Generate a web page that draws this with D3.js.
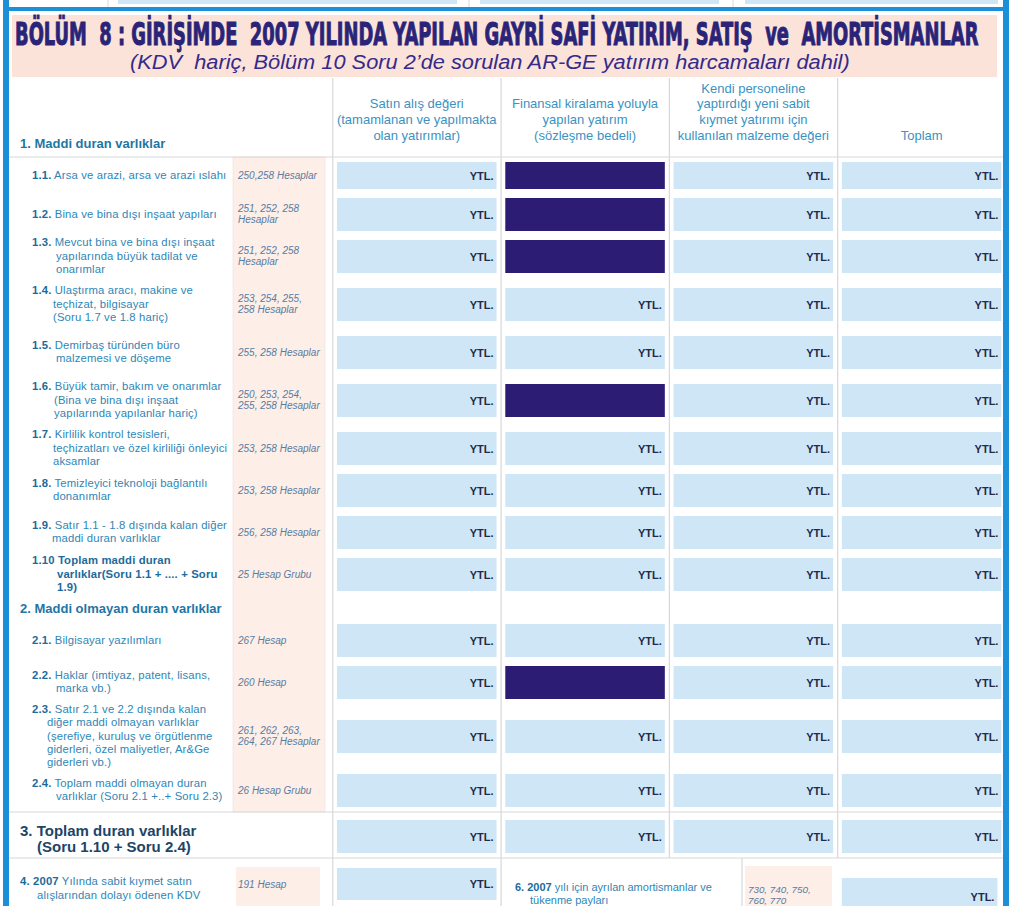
<!DOCTYPE html>
<html><head><meta charset="utf-8">
<script src="https://cdn.jsdelivr.net/npm/d3@7"></script>
<style>body{margin:0;background:#fff}svg{display:block}text{white-space:pre}</style>
</head><body>
<script>
// ---------- data ----------
const titleText = "BÖLÜM  8 : GİRİŞİMDE  2007 YILINDA YAPILAN GAYRİ SAFİ YATIRIM, SATIŞ  ve  AMORTİSMANLAR";
const subtitleText = "(KDV  hariç, Bölüm 10 Soru 2’de sorulan AR-GE yatırım harcamaları dahil)";
const columnHeaders = [
  ["Satın alış değeri","(tamamlanan ve yapılmakta","olan yatırımlar)"],
  ["Finansal kiralama yoluyla","yapılan yatırım","(sözleşme bedeli)"],
  ["Kendi personeline","yaptırdığı yeni sabit","kıymet yatırımı için","kullanılan malzeme değeri"],
  ["Toplam"]
];
const sectionHeadings = ["1. Maddi duran varlıklar","2. Maddi olmayan duran varlıklar"];
const rowIds = ["1.1","1.2","1.3","1.4","1.5","1.6","1.7","1.8","1.9","1.10","2.1","2.2","2.3","2.4","3"];
const rowNumbers = ["1.1.","1.2.","1.3.","1.4.","1.5.","1.6.","1.7.","1.8.","1.9.","1.10","2.1.","2.2.","2.3.","2.4."];
const rowTexts = [
  ["Arsa ve arazi, arsa ve arazi ıslahı"],
  ["Bina ve bina dışı inşaat yapıları"],
  ["Mevcut bina ve bina dışı inşaat","yapılarında büyük tadilat ve","onarımlar"],
  ["Ulaştırma aracı, makine ve","teçhizat, bilgisayar","(Soru 1.7 ve 1.8 hariç)"],
  ["Demirbaş türünden büro","malzemesi ve döşeme"],
  ["Büyük tamir, bakım ve onarımlar","(Bina ve bina dışı inşaat","yapılarında yapılanlar hariç)"],
  ["Kirlilik kontrol tesisleri,","teçhizatları ve özel kirliliği önleyici","aksamlar"],
  ["Temizleyici teknoloji bağlantılı","donanımlar"],
  ["Satır 1.1 - 1.8 dışında kalan diğer","maddi duran varlıklar"],
  ["Toplam maddi duran","varlıklar(Soru 1.1 + .... + Soru","1.9)"],
  ["Bilgisayar yazılımları"],
  ["Haklar (imtiyaz, patent, lisans,","marka vb.)"],
  ["Satır 2.1 ve 2.2 dışında kalan","diğer maddi olmayan varlıklar","(şerefiye, kuruluş ve örgütlenme","giderleri, özel maliyetler, Ar&Ge","giderleri vb.)"],
  ["Toplam maddi olmayan duran","varlıklar (Soru 2.1 +..+ Soru 2.3)"]
];
const boldRows = ["1.10"];
const accountCodes = [
  ["250,258 Hesaplar"],["251, 252, 258","Hesaplar"],["251, 252, 258","Hesaplar"],
  ["253, 254, 255,","258 Hesaplar"],["255, 258 Hesaplar"],["250, 253, 254,","255, 258 Hesaplar"],
  ["253, 258 Hesaplar"],["253, 258 Hesaplar"],["256, 258 Hesaplar"],["25 Hesap Grubu"],
  ["267 Hesap"],["260 Hesap"],["261, 262, 263,","264, 267 Hesaplar"],["26 Hesap Grubu"]
];
const totalLabel = ["3. Toplam duran varlıklar","(Soru 1.10 + Soru 2.4)"];
const blockedCells = [["1.1",1],["1.2",1],["1.3",1],["1.6",1],["2.2",1]];
const unitLabel = "YTL.";
const q4Number = "4. 2007", q4Lines = [" Yılında sabit kıymet satın","alışlarından dolayı ödenen KDV"], q4Code = ["191 Hesap"];
const q6Number = "6. 2007", q6Lines = [" yılı için ayrılan amortismanlar ve","tükenme payları"], q6Code = ["730, 740, 750,","760, 770"];

// ---------- styles / layout ----------
const W = 1024, H = 906;
const BLUE = "#1b8fd8", PINK = "#fbe3da", PINK2 = "#fdeee8", BOX = "#cfe6f7", DARK = "#2c1c74", LINE = "#d8d8d8";
const NAVY = "#2a2478", HEAD = "#3a92c2", LAB = "#2f86b6", NUM = "#1c6b9b", CODE = "#5a7ca0", YTL = "#232a4a";
const FONT = "'Liberation Sans', Arial, sans-serif";
const LH = 13.3, LFS = 11.3, LLS = 0.15;

const svg = d3.select("body").append("svg").attr("width", W).attr("height", H);
svg.append("rect").attr("width", W).attr("height", H).attr("fill", "#fff");

const x = d3.scaleBand().domain(d3.range(4)).range([332.6, 1005.8]).paddingInner(0.052).paddingOuter(0.026);
const y = d3.scaleOrdinal().domain(rowIds).range([162,198,240,288,336,384,432,474,516,558,624,666,720,774,820]);
const h = d3.scaleOrdinal().domain(rowIds).range([27,33,33,33,33,33,33,33,33,33,33,33,33,33,33]);
const indent = d3.scaleOrdinal().domain(rowIds).range([56,56,56,53,56,54,53,53,52,57,56,56,47,56,37]);
const sep = i => x(i) - 4.2;

// top strip (previous section remnants)
svg.selectAll("rect.prev").data([[118,457],[480,719],[745,998]]).join("rect")
  .attr("x", d => d[0]).attr("y", 0).attr("width", d => d[1]-d[0]).attr("height", 4).attr("fill", BOX);
svg.selectAll("line.prev").data([108,469,733]).join("line")
  .attr("x1", d => d).attr("x2", d => d).attr("y1", 0).attr("y2", 7).attr("stroke", LINE);

// title band
svg.append("rect").attr("x", 12).attr("y", 15).attr("width", 985).attr("height", 62).attr("fill", PINK);
const title = svg.append("text").text(titleText)
  .attr("font-family", "'DejaVu Sans Condensed','DejaVu Sans',sans-serif").attr("font-weight", "bold")
  .attr("font-size", 32).attr("fill", NAVY).attr("stroke", NAVY).attr("stroke-width", 1);
const tl = title.node().getComputedTextLength();
title.attr("transform", `translate(15,44.5) scale(${964 / tl},1)`);
const sub = svg.append("text").text(subtitleText)
  .attr("font-family", FONT).attr("font-style", "italic").attr("font-size", 19.5).attr("fill", "#35298a");
const sl = sub.node().getComputedTextLength();
sub.attr("transform", `translate(130,69) scale(${720 / sl},1)`);

// account-code pink column
svg.append("rect").attr("x", 233).attr("y", 157).attr("width", 92).attr("height", 655)
  .attr("fill", PINK2).attr("stroke", "#ece0dc").attr("stroke-width", 0.6);

// grid lines
svg.selectAll("line.vsep").data([0,1,2,3]).join("line")
  .attr("x1", sep).attr("x2", sep).attr("y1", 78).attr("y2", d => d < 2 ? H : 858)
  .attr("stroke", LINE).attr("stroke-width", 1.2);
svg.selectAll("line.hsep").data([157, 812, 858]).join("line")
  .attr("x1", 9).attr("x2", 1003).attr("y1", d => d).attr("y2", d => d).attr("stroke", LINE).attr("stroke-width", 1.2);
svg.append("line").attr("x1", 742).attr("x2", 742).attr("y1", 858).attr("y2", H).attr("stroke", LINE).attr("stroke-width", 1.2);

// column headers
const hdr = svg.selectAll("text.hdr").data(columnHeaders).join("text")
  .attr("font-family", FONT).attr("font-size", 13).attr("fill", HEAD).attr("text-anchor", "middle");
hdr.each(function(lines, i) {
  d3.select(this).selectAll("tspan").data(lines).join("tspan")
    .attr("x", x(i) + x.bandwidth()/2)
    .attr("y", (d, j) => 140 - (lines.length - 1 - j) * 15.8)
    .text(d => d);
});

// section headings
svg.selectAll("text.sec").data(sectionHeadings).join("text")
  .attr("x", 20).attr("y", (d, i) => i === 0 ? 148 : 613)
  .attr("font-family", FONT).attr("font-weight", "bold").attr("font-size", 13).attr("fill", "#1f76a4")
  .text(d => d);

// input cells
const cells = [];
rowIds.forEach(r => d3.range(4).forEach(c => cells.push({r, c,
  blocked: blockedCells.some(b => b[0] === r && b[1] === c)})));
svg.selectAll("rect.cell").data(cells).join("rect")
  .attr("x", d => x(d.c)).attr("y", d => y(d.r)).attr("width", x.bandwidth()).attr("height", d => h(d.r))
  .attr("fill", d => d.blocked ? DARK : BOX);
svg.selectAll("text.ytl").data(cells.filter(d => !d.blocked)).join("text")
  .attr("x", d => x(d.c) + x.bandwidth() - 3).attr("y", d => y(d.r) + h(d.r)/2 + 4)
  .attr("text-anchor", "end").attr("font-family", FONT).attr("font-weight", "bold").attr("font-size", 11)
  .attr("fill", YTL).text(unitLabel);

// row labels
const labelRows = rowIds.slice(0, rowTexts.length);
labelRows.forEach((id, i) => {
  const lines = rowTexts[i], n = lines.length, bold = boldRows.includes(id);
  const c = y(id) + h(id)/2, first = c + 3 - (n - 1) * LH / 2;
  lines.forEach((ln, j) => {
    const t = svg.append("text").attr("y", first + j * LH).attr("font-family", FONT).attr("font-size", LFS)
      .attr("letter-spacing", LLS).attr("fill", bold ? NUM : LAB).attr("font-weight", bold ? "bold" : null);
    if (j === 0) {
      t.attr("x", 32);
      t.append("tspan").attr("font-weight", "bold").attr("fill", NUM).text(rowNumbers[i]);
      t.append("tspan").text(" " + ln);
    } else {
      t.attr("x", indent(id)).text(ln);
    }
  });
  const codes = accountCodes[i], m = codes.length;
  codes.forEach((cd, j) => {
    svg.append("text").attr("x", 238).attr("y", c + 3 - (m - 1) * 11.5 / 2 + j * 11.5)
      .attr("font-family", FONT).attr("font-style", "italic").attr("font-size", 10).attr("fill", CODE).text(cd);
  });
});

// total row (3)
svg.selectAll("text.tot").data(totalLabel).join("text")
  .attr("x", (d, i) => i === 0 ? 20 : indent("3")).attr("y", (d, i) => 836 + i * 16)
  .attr("font-family", FONT).attr("font-weight", "bold").attr("font-size", 15).attr("fill", "#1d4567").text(d => d);

// question 4
svg.append("rect").attr("x", 236).attr("y", 867).attr("width", 84).attr("height", 39).attr("fill", PINK2);
svg.append("rect").attr("x", x(0)).attr("y", 868).attr("width", x.bandwidth()).attr("height", 32).attr("fill", BOX);
svg.append("text").attr("x", x(0) + x.bandwidth() - 3).attr("y", 888).attr("text-anchor", "end")
  .attr("font-family", FONT).attr("font-weight", "bold").attr("font-size", 11).attr("fill", YTL).text(unitLabel);
const q4 = svg.append("text").attr("x", 20).attr("y", 885).attr("font-family", FONT).attr("font-size", LFS)
  .attr("letter-spacing", LLS).attr("fill", LAB);
q4.append("tspan").attr("font-weight", "bold").attr("fill", NUM).text(q4Number);
q4.append("tspan").text(q4Lines[0]);
svg.append("text").attr("x", 37).attr("y", 899).attr("font-family", FONT).attr("font-size", LFS)
  .attr("letter-spacing", LLS).attr("fill", LAB).text(q4Lines[1]);
svg.append("text").attr("x", 238).attr("y", 888).attr("font-family", FONT).attr("font-style", "italic")
  .attr("font-size", 10).attr("fill", CODE).text(q4Code[0]);

// question 6
svg.append("rect").attr("x", 745).attr("y", 866).attr("width", 87).attr("height", 40).attr("fill", PINK2);
q6Code.forEach((cd, j) => svg.append("text").attr("x", 748).attr("y", 893 + j * 11).attr("font-family", FONT)
  .attr("font-style", "italic").attr("font-size", 9.8).attr("fill", CODE).text(cd));
const q6 = svg.append("text").attr("x", 515).attr("y", 891).attr("font-family", FONT).attr("font-size", 11)
  .attr("fill", LAB);
q6.append("tspan").attr("font-weight", "bold").attr("fill", NUM).text(q6Number);
q6.append("tspan").text(q6Lines[0]);
svg.append("text").attr("x", 530).attr("y", 904).attr("font-family", FONT).attr("font-size", 11)
  .attr("fill", LAB).text(q6Lines[1]);
svg.append("rect").attr("x", x(3)).attr("y", 878).attr("width", x.bandwidth() - 4).attr("height", 30).attr("fill", BOX);
svg.append("text").attr("x", x(3) + x.bandwidth() - 7).attr("y", 901).attr("text-anchor", "end")
  .attr("font-family", FONT).attr("font-weight", "bold").attr("font-size", 11).attr("fill", YTL).text(unitLabel);

// blue frame
svg.append("rect").attr("x", 3).attr("y", 0).attr("width", 6).attr("height", H).attr("fill", BLUE);
svg.append("rect").attr("x", 1003).attr("y", 0).attr("width", 6).attr("height", H).attr("fill", BLUE);
svg.append("rect").attr("x", 3).attr("y", 7).attr("width", 1006).attr("height", 4).attr("fill", BLUE);
</script>
</body></html>
